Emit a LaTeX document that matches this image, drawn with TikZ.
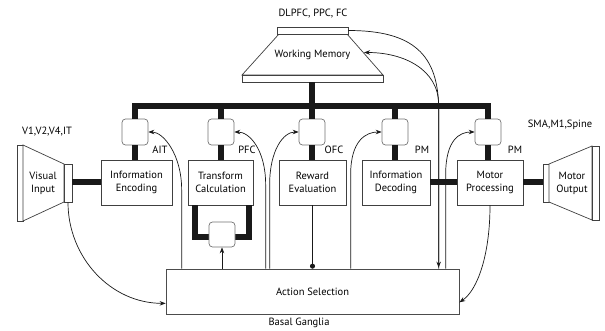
\documentclass[tikz,border=0pt]{standalone}
\usepackage{fontspec}
\setmainfont{PT Sans}
\usetikzlibrary{arrows.meta,calc}
\begin{document}
\begin{tikzpicture}[x=1pt,y=-1pt,
  font=\fontsize{10.5}{13}\selectfont,
  mod/.style={draw=black!75,line width=0.7pt,fill=white,minimum height=45pt,align=center,inner sep=0pt},
  reg/.style={draw=black!55,line width=0.7pt,fill=white,rounded corners=3.5pt,minimum width=26pt,minimum height=26pt,inner sep=0pt},
  shp/.style={draw=black!75,line width=0.7pt,fill=white},
  bus/.style={line width=6pt,draw=black!90},
  thin/.style={line width=0.7pt,draw=black!90},
  arr/.style={thin,-{Stealth[length=6pt,width=4.5pt]}},
  lbl/.style={inner sep=0pt}
]
\useasboundingbox (0,0) rectangle (605,331);

% Working memory
\draw[shp] (279,34) -- (347,34) -- (383,75) -- (242,75) -- cycle;
\node[shp,minimum width=71pt,minimum height=7pt,inner sep=0pt] (wmtop) at (312.5,30.5) {};
\node[shp,minimum width=141pt,minimum height=7pt,inner sep=0pt] (wmbot) at (312.5,78.5) {};
\node[lbl] (wm) at (312.5,55) {Working Memory};
\node[lbl] (wmlab) at (313,14) {DLPFC, PPC, FC};
\coordinate (wmR) at (364,52.5);

% modules
\node[mod,minimum width=71pt] (ie) at (136.5,182.5) {Information\\Encoding};
\node[mod,minimum width=65pt] (tc) at (220.5,182.5) {Transform\\Calculation};
\node[mod,minimum width=67pt] (re) at (312.5,182.5) {Reward\\Evaluation};
\node[mod,minimum width=68pt] (id) at (396,182.5) {Information\\Decoding};
\node[mod,minimum width=66pt] (mp) at (490,182.5) {Motor\\Processing};

% registers
\node[reg] (r1) at (135,132) {};
\node[reg] (r2) at (221,132) {};
\node[reg] (r3) at (312,132) {};
\node[reg] (r4) at (395,132) {};
\node[reg] (r5) at (488,132) {};

% bus
\draw[bus] (r1.north) -- ++(0,-12.5) -| (r5.north);
\draw[bus] (r2.north) -- ++(0,-12.5);
\draw[bus] (r4.north) -- ++(0,-12.5);
\draw[bus] (wmbot.south -| r3.north) -- (r3.north);
\foreach \r/\m in {r1/ie,r2/tc,r3/re,r4/id,r5/mp}
  \draw[bus] (\r.south) -- (\r.south |- \m.north);

% transform loop
\draw[bus] ([xshift=7pt]tc.south west) -- ++(0,31.5) -| ([xshift=-4pt]tc.south east);
\node[reg,minimum height=25pt] (r6) at (222,234.5) {};

% visual input
\draw[shp] (17,145) rectangle (23,221);
\draw[shp] (23,145) -- (64,164) -- (64,202) -- (23,221) -- cycle;
\node[shp,minimum width=8pt,minimum height=38pt,inner sep=0pt] (vin) at (68,183) {};
\node[lbl,align=center] (vtext) at (43,183) {Visual\\Input};
\node[lbl] (vlab) at (47,132) {V1,V2,V4,IT};

% motor output
\node[shp,minimum width=6pt,minimum height=38pt,inner sep=0pt] (mout) at (546,183) {};
\draw[shp] (549,164) -- (592,146) -- (592,220) -- (549,202) -- cycle;
\draw[shp] (592,146) rectangle (599,220);
\node[lbl,align=center] (mtext) at (572,183) {Motor\\Output};
\node[lbl] (mlab) at (560,125) {SMA,M1,Spine};

% thick side connectors
\draw[bus] (vin.east |- ie.west) -- (ie.west);
\draw[bus] (id.east) -- (mp.west);
\draw[bus] (mp.east) -- (mout.west |- mp.east);

% action selection
\node[draw=black!70,line width=0.7pt,fill=white,minimum width=293pt,minimum height=45pt,inner sep=0pt] (as) at (312.5,291.5) {Action Selection};
\node[lbl] (bg) at (299,323) {Basal Ganglia};

% region labels
\node[lbl] (lait) at (160,150) {AIT};
\node[lbl] (lpfc) at (247,150) {PFC};
\node[lbl] (lofc) at (334,150) {OFC};
\node[lbl] (lpm1) at (422,150) {PM};
\node[lbl] (lpm2) at (515,150) {PM};

% thin connectors
\draw[arr] (as.north -| r6.south) -- (r6.south);
\draw[arr] (vin.south) .. controls +(0,55) and +(-55,0) .. ($(as.south west)+(0,-11)$);
\draw[arr] (mp.south) .. controls +(0,50) and +(18,-12) .. ($(as.south east)+(0,-12)$);
\draw[arr] ($(as.north west)+(16,0)$) -- ++(0,-79) .. controls +(0,-35) and +(15,0) .. (r1.east);
\draw[arr] ($(as.north west)+(100,0)$) -- ++(0,-84) .. controls +(0,-35) and +(15,0) .. (r2.east);
\draw[arr] ($(as.north west)+(104,0)$) -- ++(0,-84) .. controls +(0,-35) and +(-15,0) .. (r3.west);
\draw[arr] ($(as.north west)+(185,0)$) -- ++(0,-94) .. controls +(0,-35) and +(-15,0) .. (r4.west);
\draw[arr] ($(as.north west)+(280,0)$) -- ++(0,-94) .. controls +(0,-35) and +(-15,0) .. (r5.west);
\draw[thin,-{Circle[length=5pt]}] (re.south) -- (re.south |- as.north);
\draw[arr] (wmtop.east) .. controls +(65,0) and +(0,-55) .. ($(as.north west)+(273,-159)$) -- ($(as.north west)+(273,-1)$);
\draw[arr] ($(as.north west)+(273,0)$) -- ++(0,-164) .. controls +(0,-35) and +(40,0) .. (wmR);
\end{tikzpicture}
\end{document}
